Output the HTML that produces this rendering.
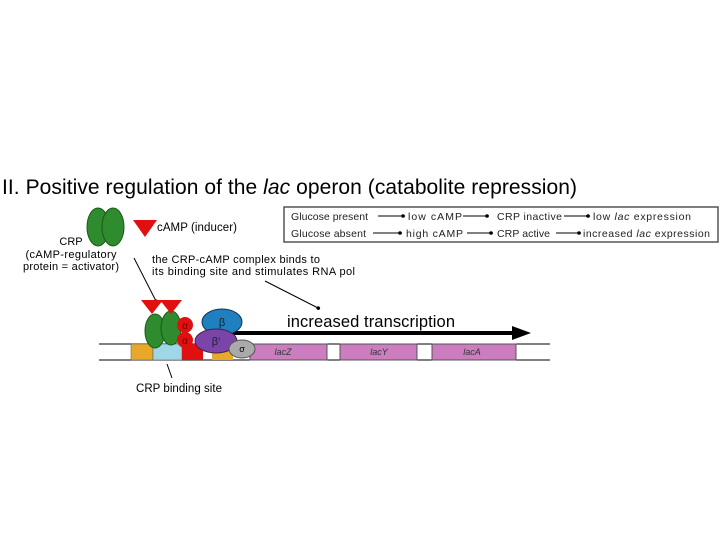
<!DOCTYPE html>
<html><head><style>body{margin:0;background:#fff}svg{display:block}</style></head><body>
<svg width="720" height="540" viewBox="0 0 720 540" font-family="Liberation Sans, sans-serif">
<defs><marker id="a" markerWidth="6" markerHeight="6" refX="5" refY="3" orient="auto"><circle cx="3" cy="3" r="1.8" fill="#000"/></marker></defs>
<text x="2" y="194" font-size="21" textLength="575">II. Positive regulation of the <tspan font-style="italic">lac</tspan> operon (catabolite repression)</text>
<rect x="284" y="207" width="434" height="35" fill="#fff" stroke="#555" stroke-width="1.5"/>
<g font-size="10.5" fill="#222">
<text x="291" y="220" textLength="77">Glucose present</text><text x="408" y="220" textLength="54">low cAMP</text><text x="497" y="220" textLength="65">CRP inactive</text><text x="593" y="220" textLength="98">low <tspan font-style="italic">lac</tspan> expression</text>
<text x="291" y="237" textLength="75">Glucose absent</text><text x="406" y="237" textLength="57">high cAMP</text><text x="497" y="237" textLength="53">CRP active</text><text x="583" y="237" textLength="127">increased <tspan font-style="italic">lac</tspan> expression</text>
</g>
<g stroke="#000" stroke-width="1" marker-end="url(#a)">
<line x1="378" y1="216" x2="405" y2="216"/><line x1="463" y1="216" x2="489" y2="216"/><line x1="564" y1="216" x2="590" y2="216"/>
<line x1="373" y1="233" x2="402" y2="233"/><line x1="467" y1="233" x2="493" y2="233"/><line x1="556" y1="233" x2="581" y2="233"/>
<line x1="134" y1="258" x2="157" y2="303"/><line x1="265" y1="281" x2="320" y2="309"/>
</g>
<ellipse cx="98" cy="227" rx="11" ry="19" fill="#2e8b2e" stroke="#1a5a1a"/>
<ellipse cx="113" cy="227" rx="11" ry="19" fill="#2e8b2e" stroke="#1a5a1a"/>
<g font-size="11" text-anchor="middle"><text x="71" y="245">CRP</text><text x="71" y="258" textLength="91">(cAMP-regulatory</text><text x="71" y="270" textLength="96">protein = activator)</text></g>
<polygon points="133,220 157,220 145,237" fill="#e01010"/>
<text x="157" y="231" font-size="11.5" textLength="80">cAMP (inducer)</text>
<text x="152" y="263" font-size="11" textLength="168">the CRP-cAMP complex binds to</text>
<text x="152" y="275" font-size="11" textLength="203">its binding site and stimulates RNA pol</text>
<text x="287" y="327" font-size="16.5" textLength="168">increased transcription</text>
<line x1="232" y1="333" x2="515" y2="333" stroke="#000" stroke-width="4"/>
<polygon points="512,326 531,333 512,340" fill="#000"/>
<line x1="99" y1="344" x2="550" y2="344" stroke="#000"/>
<line x1="99" y1="360" x2="550" y2="360" stroke="#000"/>
<rect x="131" y="344" width="22" height="16" fill="#e8a92a" stroke="#555" stroke-width=".5"/>
<rect x="153" y="344" width="29" height="16" fill="#9fd6e8" stroke="#555" stroke-width=".5"/>
<rect x="182" y="344" width="21" height="16" fill="#e01010"/>
<rect x="212" y="344" width="21" height="16" fill="#e8a92a"/>
<g fill="#cc7dbf" stroke="#555"><rect x="250" y="344" width="77" height="16"/><rect x="340" y="344" width="77" height="16"/><rect x="432" y="344" width="84" height="16"/></g>
<g font-size="9" font-style="italic" fill="#333" text-anchor="middle"><text x="283" y="355">lacZ</text><text x="379" y="355">lacY</text><text x="472" y="355">lacA</text></g>
<ellipse cx="155" cy="331" rx="10" ry="17" fill="#2e8b2e" stroke="#1a5a1a"/>
<ellipse cx="171" cy="328" rx="10" ry="17" fill="#2e8b2e" stroke="#1a5a1a"/>
<polygon points="141,300 163,300 152,314" fill="#e01010"/>
<polygon points="160,300 182,300 171,314" fill="#e01010"/>
<circle cx="185" cy="325" r="8" fill="#e01010"/><circle cx="185" cy="340" r="8" fill="#e01010"/>
<g font-size="10" fill="#600" text-anchor="middle"><text x="185" y="329">α</text><text x="185" y="344">α</text></g>
<ellipse cx="222" cy="322" rx="20" ry="13" fill="#1f7fbf" stroke="#135"/>
<ellipse cx="216" cy="341" rx="21" ry="12" fill="#7a44a8" stroke="#424"/>
<text x="222" y="326" font-size="11" fill="#222" text-anchor="middle">β</text>
<text x="216" y="345" font-size="11" fill="#222" text-anchor="middle">β′</text>
<ellipse cx="242" cy="349" rx="13" ry="9" fill="#aaa" stroke="#555"/>
<text x="242" y="352" font-size="9" text-anchor="middle">σ</text>
<line x1="167" y1="364" x2="172" y2="378" stroke="#000"/>
<text x="136" y="392" font-size="11.5" textLength="86">CRP binding site</text>
</svg>
</body></html>
